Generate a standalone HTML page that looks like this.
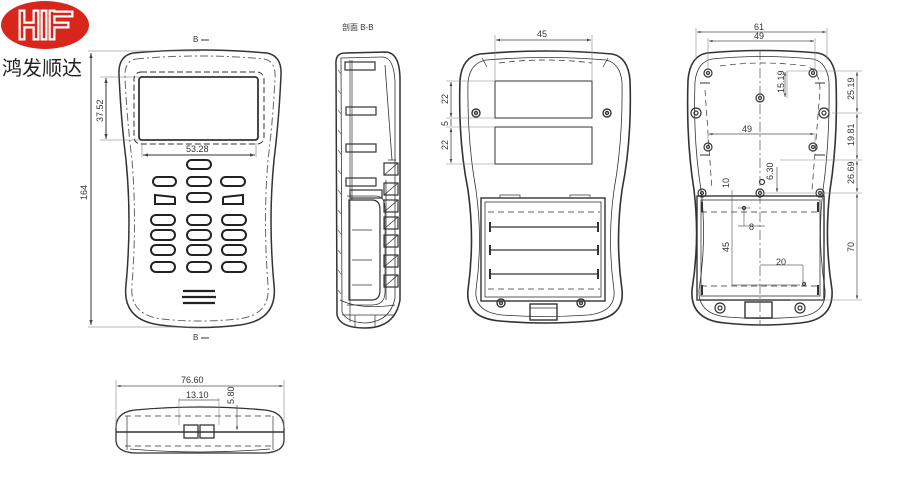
<!DOCTYPE html>
<html><head><meta charset="utf-8"><style>
html,body{margin:0;padding:0;background:#fff;}
svg{display:block;}
text{font-family:"Liberation Sans","Noto Sans CJK SC",sans-serif;fill:#333;}
</style></head><body>
<svg width="900" height="500" viewBox="0 0 900 500" xmlns="http://www.w3.org/2000/svg">
<defs>
<marker id="a" viewBox="0 0 6 6" refX="6" refY="3" markerWidth="5" markerHeight="5" orient="auto-start-reverse"><path d="M0,1 L6,3 L0,5z" fill="#444"/></marker>
</defs>
<!-- logo -->
<ellipse cx="45" cy="25" rx="44" ry="24" fill="#d9261c"/>
<g fill="none" stroke-linecap="square" stroke-linejoin="miter">
<path d="M22,13 V37 M36,13 V37 M22,25 H36 M44,13 V37 M52,13 V37 M52,14 H70 M52,25 H66" stroke="#fff" stroke-width="7"/>
<path d="M22,13 V37 M36,13 V37 M22,25 H36 M44,13 V37 M52,13 V37 M52,14 H70 M52,25 H66" stroke="#d9261c" stroke-width="2.5"/>
</g>
<text x="2" y="75" font-size="20" style="fill:#222">鸿发顺达</text>

<g fill="none" stroke="#333" stroke-width="1">
<!-- FRONT VIEW -->
<path d="M133,53 Q200,47 267,53 Q282,56 281,75 Q279,120 274,160 Q268,220 274,285 Q278,320 240,325 Q200,330 160,325 Q122,320 126,285 Q132,220 126,160 Q121,120 119,75 Q118,56 133,53 Z" stroke-width="1.5"/>
<path d="M136,59 Q200,53 264,59 Q276,61 275,78 Q273,120 268,160 Q263,220 268,285 Q271,315 238,319 Q200,323 162,319 Q129,315 132,285 Q137,220 132,160 Q127,120 125,78 Q124,61 136,59 Z" stroke-dasharray="8 3 2 3" stroke="#666"/>
<rect x="134" y="72" width="130" height="72" rx="7" stroke-dasharray="6 3"/>
<rect x="139" y="77" width="119" height="63" rx="3" stroke-width="1.8"/>
<g stroke-width="2" stroke="#222">
<rect x="187" y="160" width="24" height="9" rx="4.5"/>
<rect x="153" y="177" width="23" height="9" rx="4.5"/>
<rect x="187" y="177" width="24" height="9" rx="4.5"/>
<rect x="221" y="177" width="24" height="9" rx="4.5"/>
<path d="M155,195 L174,197 Q175,197 175,199 L175,204 L155,204 Z"/>
<rect x="187" y="193" width="24" height="9" rx="4.5"/>
<path d="M243,195 L224,197 Q223,197 223,199 L223,204 L243,204 Z"/>
<rect x="151" y="215" width="24" height="10" rx="5"/>
<rect x="187" y="215" width="24" height="10" rx="5"/>
<rect x="222" y="215" width="24" height="10" rx="5"/>
<rect x="151" y="230" width="24" height="10" rx="5"/>
<rect x="187" y="230" width="24" height="10" rx="5"/>
<rect x="222" y="230" width="24" height="10" rx="5"/>
<rect x="151" y="245" width="24" height="10" rx="5"/>
<rect x="187" y="245" width="24" height="10" rx="5"/>
<rect x="222" y="245" width="24" height="10" rx="5"/>
<rect x="151" y="262" width="24" height="10" rx="5"/>
<rect x="187" y="262" width="24" height="10" rx="5"/>
<rect x="222" y="262" width="24" height="10" rx="5"/>
<path d="M183,291 H215 M182,297 H216 M183,303 H215" stroke-width="2.2"/>
</g>
<path d="M88,51 H200 M88,327 H200 M100,77 H140 M100,140 H140" stroke="#777" stroke-width="0.6"/>
<line x1="91" y1="53" x2="91" y2="325" marker-start="url(#a)" marker-end="url(#a)"/>
<line x1="106" y1="78" x2="106" y2="139" marker-start="url(#a)" marker-end="url(#a)"/>
<path d="M142,143 V157 M256,143 V157" stroke="#777" stroke-width="0.6"/>
<line x1="143" y1="155" x2="255" y2="155" marker-start="url(#a)" marker-end="url(#a)"/>
</g>
<text x="193" y="42" font-size="8">B</text><path d="M201,40 H209" stroke="#333"/>
<text x="193" y="340" font-size="8">B</text><path d="M201,338 H209" stroke="#333"/>
<text font-size="9" transform="translate(87,200) rotate(-90)">164</text>
<text font-size="9" transform="translate(103,122) rotate(-90)">37.52</text>
<text x="186" y="152" font-size="9">53.28</text>

<!-- SECTION VIEW -->
<text x="342" y="30" font-size="8">剖面 B-B</text>
<g fill="none" stroke="#333" stroke-width="1.2">
<path d="M345,53 Q335,53 336,65 L337,315 Q340,328 365,328 Q395,328 400,300 L400,80 Q400,52 385,52 Z" stroke-width="1.5"/>
<path d="M341,58 L342,312 Q346,322 365,323 Q390,322 395,298 L395,82 Q394,58 383,57 Z" stroke-width="0.8"/>
<path d="M350,60 V322 M352,60 V200" stroke-width="0.7"/>
<rect x="345" y="62" width="30" height="8"/><rect x="346" y="107" width="30" height="8"/><rect x="346" y="144" width="30" height="8"/>
<rect x="346" y="178" width="30" height="8"/><rect x="350" y="190" width="32" height="8"/>
<path d="M349,200 H372 Q380,200 380,210 V290 Q380,300 372,300 H349 Z"/>
<path d="M347,196 H375 Q385,196 385,208 V292 Q385,305 372,305 H347" stroke-width="0.7"/>
<path d="M352,230 H372 M352,260 H372 M352,285 H372" stroke-width="0.7"/>
<path d="M385,65 L392,160 M388,160 H396 M386,180 V300" stroke-width="0.8"/>
<g stroke-width="1.2">
<rect x="384" y="163" width="14" height="12"/><rect x="384" y="183" width="14" height="12"/><rect x="384" y="200" width="14" height="12"/>
<rect x="384" y="217" width="14" height="12"/><rect x="384" y="235" width="14" height="12"/><rect x="384" y="255" width="14" height="12"/>
<rect x="384" y="275" width="14" height="12"/>
<path d="M384,175 L398,163 M384,195 L398,183 M384,212 L398,200 M384,229 L398,217 M384,247 L398,235 M384,267 L398,255 M384,287 L398,275" stroke-width="0.8"/>
</g>
<path d="M340,300 Q360,310 395,305 M342,315 H395 M355,315 V327 M375,315 V327" stroke-width="0.7"/>
<path d="M338,70 L341,74 M338,90 L341,94 M338,110 L341,114 M338,130 L341,134 M338,150 L341,154 M338,170 L341,174 M338,190 L341,194 M338,210 L341,214 M338,230 L341,234 M338,250 L341,254 M338,270 L341,274 M338,290 L341,294" stroke-width="0.6"/>
</g>

<!-- BACK VIEW 1 -->
<g fill="none" stroke="#333" stroke-width="1.4">
<path d="M480,54 Q545,48 612,54 Q628,57 630,80 Q632,140 622,190 Q615,240 622,290 Q625,318 590,321 Q545,325 500,321 Q465,318 468,290 Q475,240 468,190 Q458,140 460,80 Q462,57 480,54 Z" stroke-width="1.6"/>
<path d="M486,60 Q545,55 606,60 Q620,63 622,82 Q623,140 614,190 Q607,240 614,290 Q616,312 588,315 Q545,318 502,315 Q474,312 476,290 Q483,240 476,190 Q467,140 468,82 Q470,63 486,60 Z" stroke-width="0.8"/>
<path d="M499,63 Q545,57 592,63" stroke-dasharray="6 4" stroke-width="0.8"/>
<path d="M482,58 L487,67 M608,58 L603,67" stroke-width="0.7"/>
<rect x="495" y="81" width="97" height="37" stroke-width="1"/>
<rect x="495" y="127" width="97" height="37" stroke-width="1"/>
<rect x="481" y="198" width="124" height="103"/>
<rect x="485" y="202" width="116" height="95" stroke-width="0.8"/>
<path d="M488,212 H600 M488,289 H600" stroke-dasharray="6 4" stroke-width="0.7"/>
<path d="M490,227 H598 M490,250 H598 M490,274 H598" stroke-width="1.2"/>
<path d="M490,222 V232 M598,222 V232 M490,245 V255 M598,245 V255 M490,269 V279 M598,269 V279" stroke-width="2"/>
<rect x="530" y="304" width="27" height="16"/>
<path d="M530,308 H557 M500,198 V195 H520 V198 M570,198 V195 H590 V198" stroke-width="0.7"/>
<circle cx="476" cy="113" r="4"/><circle cx="476" cy="113" r="1.5"/>
<circle cx="607" cy="113" r="4"/><circle cx="607" cy="113" r="1.5"/>
<circle cx="501" cy="303" r="4"/><circle cx="501" cy="303" r="1.5"/>
<circle cx="581" cy="303" r="4"/><circle cx="581" cy="303" r="1.5"/>
</g>
<g fill="none" stroke="#444" stroke-width="0.8">
<path d="M495,35 V81 M592,35 V81 M446,81 H495 M446,118 H495 M446,127 H495 M446,164 H495" stroke="#888" stroke-width="0.6"/>
<line x1="496" y1="40" x2="591" y2="40" marker-start="url(#a)" marker-end="url(#a)"/>
<line x1="451" y1="82" x2="451" y2="117" marker-start="url(#a)" marker-end="url(#a)"/>
<line x1="451" y1="119" x2="451" y2="126"/>
<line x1="451" y1="128" x2="451" y2="163" marker-start="url(#a)" marker-end="url(#a)"/>
</g>
<text x="537" y="37" font-size="9">45</text>
<text font-size="9" transform="translate(448,104) rotate(-90)">22</text>
<text font-size="9" transform="translate(448,126) rotate(-90)">5</text>
<text font-size="9" transform="translate(448,150) rotate(-90)">22</text>

<!-- BACK VIEW 2 -->
<g fill="none" stroke="#333" stroke-width="1.4">
<path d="M707,53 Q762,48 818,53 Q834,56 836,80 Q838,140 830,190 Q824,240 832,290 Q834,320 800,323 Q762,327 725,323 Q690,320 692,290 Q700,240 694,190 Q686,140 688,80 Q690,56 707,53 Z" stroke-width="1.6"/>
<path d="M712,59 Q762,54 813,59 Q827,62 829,82 Q830,140 823,190 Q817,240 825,290 Q827,314 798,317 Q762,320 727,317 Q698,314 699,290 Q707,240 701,190 Q693,140 695,82 Q697,62 712,59 Z" stroke-width="0.8"/>
<path d="M720,66 Q762,60 806,66 Q820,70 820,90 L812,190 M705,90 L712,190" stroke-dasharray="6 4" stroke-width="0.7"/>
<rect x="697" y="196" width="127" height="104"/>
<rect x="701" y="200" width="119" height="96" stroke-width="0.8"/>
<path d="M701,212 H820 M701,286 H820" stroke-dasharray="6 4" stroke-width="0.7"/>
<rect x="745" y="302" width="27" height="16"/>
<path d="M702,202 V212 M818,202 V212 M702,285 V295 M818,285 V295" stroke-width="2"/>
<path d="M700,83 H710 M815,83 H825 M700,155 H710 M815,155 H825" stroke-width="1"/>
<g stroke-width="1.2">
<circle cx="708" cy="73" r="4"/><circle cx="708" cy="73" r="1.5"/>
<circle cx="813" cy="73" r="4"/><circle cx="813" cy="73" r="1.5"/>
<circle cx="760" cy="98" r="4"/><circle cx="760" cy="98" r="1.5"/>
<circle cx="696" cy="113" r="5"/><circle cx="696" cy="113" r="2"/>
<circle cx="824" cy="113" r="5"/><circle cx="824" cy="113" r="2"/>
<circle cx="708" cy="147" r="4"/><circle cx="708" cy="147" r="1.5"/>
<circle cx="813" cy="147" r="4"/><circle cx="813" cy="147" r="1.5"/>
<circle cx="762" cy="182" r="2.5"/>
<circle cx="702" cy="193" r="4"/><circle cx="702" cy="193" r="1.5"/>
<circle cx="760" cy="193" r="4"/><circle cx="760" cy="193" r="1.5"/>
<circle cx="820" cy="193" r="4"/><circle cx="820" cy="193" r="1.5"/>
<circle cx="720" cy="308" r="5"/><circle cx="720" cy="308" r="2"/>
<circle cx="800" cy="308" r="5"/><circle cx="800" cy="308" r="2"/>
<circle cx="744" cy="208" r="1.5"/><circle cx="804" cy="284" r="1.5"/>
</g>
</g>
<g fill="none" stroke="#555" stroke-width="0.7">
<path d="M760,50 V325" stroke-dasharray="10 3 2 3"/>
<path d="M696,28 V60 M827,28 V60 M708,38 V70 M815,38 V70 M708,133 V147 M815,133 V147" stroke="#888" stroke-width="0.6"/>
<line x1="697" y1="32" x2="826" y2="32" marker-start="url(#a)" marker-end="url(#a)"/>
<line x1="709" y1="41" x2="814" y2="41" marker-start="url(#a)" marker-end="url(#a)"/>
<line x1="709" y1="134" x2="814" y2="134" marker-start="url(#a)" marker-end="url(#a)"/>
<path d="M787,71 H862 M832,113 H862 M780,160 H862 M760,193 H862 M790,300 H862 M787,71 V98" stroke="#888" stroke-width="0.6"/>
<line x1="785" y1="72" x2="785" y2="97" marker-start="url(#a)" marker-end="url(#a)"/>
<line x1="857" y1="72" x2="857" y2="112" marker-start="url(#a)" marker-end="url(#a)"/>
<line x1="857" y1="114" x2="857" y2="159" marker-start="url(#a)" marker-end="url(#a)"/>
<line x1="857" y1="161" x2="857" y2="192" marker-start="url(#a)" marker-end="url(#a)"/>
<line x1="857" y1="194" x2="857" y2="299" marker-start="url(#a)" marker-end="url(#a)"/>
<line x1="777" y1="167" x2="777" y2="192" marker-end="url(#a)"/>
<path d="M732,190 V285 M732,285 H800 M738,208 H750 M738,226 H765 M760,265 H803 M803,265 V285 M744,208 V226" stroke="#666"/>
</g>
<text x="754" y="30" font-size="9">61</text>
<text x="754" y="39" font-size="9">49</text>
<text x="742" y="132" font-size="9">49</text>
<text x="749" y="230" font-size="9">8</text>
<text x="776" y="265" font-size="9">20</text>
<text font-size="9" transform="translate(784,93) rotate(-90)">15.19</text>
<text font-size="9" transform="translate(773,180) rotate(-90)">6.30</text>
<text font-size="9" transform="translate(729,188) rotate(-90)">10</text>
<text font-size="9" transform="translate(729,252) rotate(-90)">45</text>
<text font-size="9" transform="translate(854,100) rotate(-90)">25.19</text>
<text font-size="9" transform="translate(854,146) rotate(-90)">19.81</text>
<text font-size="9" transform="translate(854,184) rotate(-90)">26.69</text>
<text font-size="9" transform="translate(854,252) rotate(-90)">70</text>

<!-- BOTTOM VIEW -->
<g fill="none" stroke="#333" stroke-width="1.3">
<path d="M116,428 Q116,412 135,410 Q200,404 265,410 Q284,412 284,428 V440 Q284,452 265,453 H135 Q116,452 116,440 Z"/>
<path d="M116,432 H284" stroke-width="1.6"/>
<path d="M127,416 V450 M273,416 V450" stroke-width="0.7"/>
<path d="M125,416 H275 M125,446 H275" stroke-dasharray="6 4" stroke-width="0.7"/>
<rect x="184" y="425" width="14" height="13"/><rect x="200" y="425" width="14" height="13"/>
<path d="M130,449 Q200,455 270,449" stroke-width="0.7"/>
</g>
<g fill="none" stroke="#555" stroke-width="0.7">
<path d="M116,380 V428 M284,380 V428 M179,398 V425 M219,398 V425" stroke="#888" stroke-width="0.6"/>
<line x1="117" y1="386" x2="283" y2="386" marker-start="url(#a)" marker-end="url(#a)"/>
<line x1="179" y1="400" x2="219" y2="400"/>
<line x1="237" y1="405" x2="237" y2="430" marker-end="url(#a)"/>
</g>
<text x="181" y="383" font-size="9">76.60</text>
<text x="186" y="398" font-size="9">13.10</text>
<text font-size="9" transform="translate(234,404) rotate(-90)">5.80</text>
</svg>
</body></html>
